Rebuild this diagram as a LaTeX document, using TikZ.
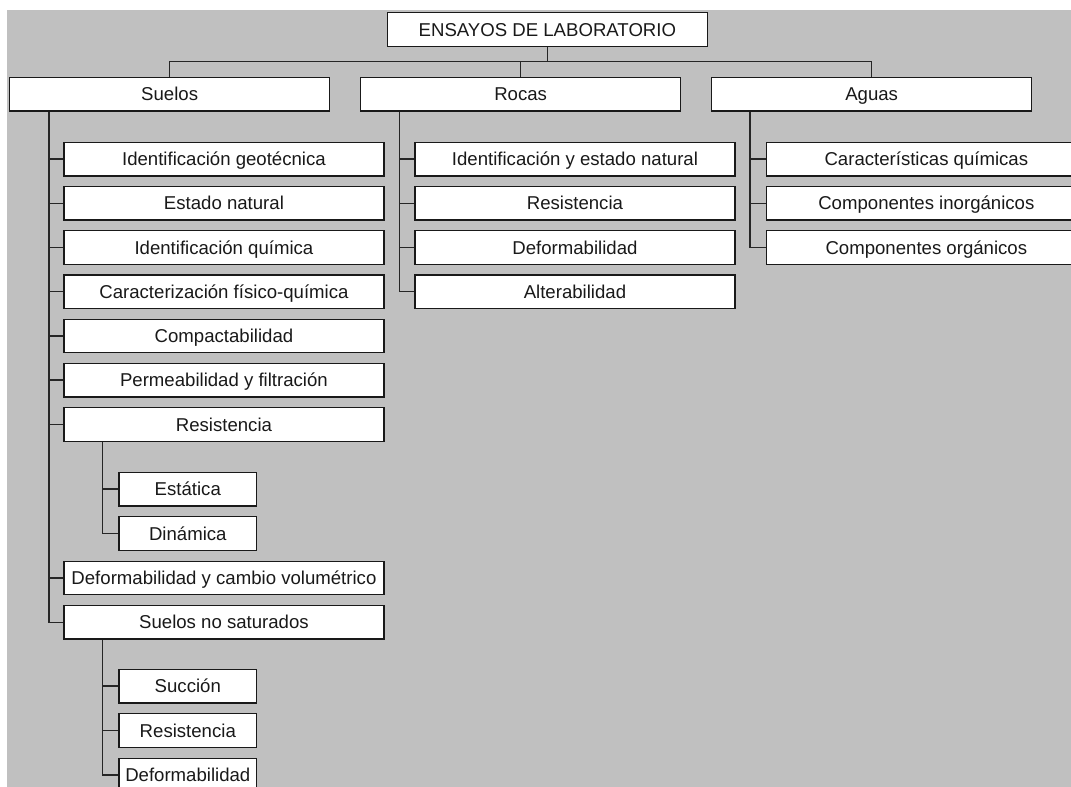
\documentclass[tikz,border=0pt]{standalone}
\usepackage{fontspec}
\setmainfont{Liberation Sans}
\begin{document}
\begin{tikzpicture}[x=1pt,y=-1pt,
  box/.style={draw=black!90,fill=white,line width=1.3pt,rectangle,inner sep=0pt,anchor=north west,
    minimum height=33.5pt,text height=13.3pt,text depth=0pt,text=black!90,font=\fontsize{18.6}{22}\selectfont},
  topbox/.style={box,minimum width=320pt},
  kid/.style={box,minimum width=320pt},
  small/.style={box,minimum width=137.7pt},
  conn/.style={draw=black!85,line width=1.3pt}]
\useasboundingbox (0,0) rectangle (1071,787);
\clip (0,0) rectangle (1071,786.7);
\fill[fill={rgb,255:red,192;green,192;blue,192}] (7,10) rectangle (1071,786.7);
% coordinates for buses
\coordinate (bus) at (0,61.7);
\coordinate (sv) at (49,0);
\coordinate (rv) at (399.3,0);
\coordinate (av) at (750,0);
\coordinate (rsv) at (102.7,0);
% nodes
\node[topbox] (root) at (386.7,12) {ENSAYOS DE LABORATORIO};
\node[topbox] (suelos) at (9,76.7) {Suelos};
\node[topbox] (rocas) at (360,76.7) {Rocas};
\node[topbox] (aguas) at (711,76.7) {Aguas};
% Suelos children
\node[kid] (s1) at (63.3,141.7) {Identificación geotécnica};
\node[kid] (s2) at (63.3,185.9) {Estado natural};
\node[kid] (s3) at (63.3,230.1) {Identificación química};
\node[kid] (s4) at (63.3,274.3) {Caracterización físico-química};
\node[kid] (s5) at (63.3,318.5) {Compactabilidad};
\node[kid] (s6) at (63.3,362.7) {Permeabilidad y filtración};
\node[kid] (s7) at (63.3,407.1) {Resistencia};
\node[small] (s7a) at (118.3,471.7) {Estática};
\node[small] (s7b) at (118.3,516) {Dinámica};
\node[kid] (s8) at (63.3,560.5) {Deformabilidad y cambio volumétrico};
\node[kid] (s9) at (63.3,604.8) {Suelos no saturados};
\node[small] (s9a) at (118.3,668.7) {Succión};
\node[small] (s9b) at (118.3,713.1) {Resistencia};
\node[small] (s9c) at (118.3,757.5) {Deformabilidad};
% Rocas children
\node[kid] (r1) at (414.3,141.7) {Identificación y estado natural};
\node[kid] (r2) at (414.3,185.9) {Resistencia};
\node[kid] (r3) at (414.3,230.1) {Deformabilidad};
\node[kid] (r4) at (414.3,274.3) {Alterabilidad};
% Aguas children
\node[kid] (a1) at (765.7,141.7) {Características químicas};
\node[kid] (a2) at (765.7,185.9) {Componentes inorgánicos};
\node[kid] (a3) at (765.7,230.1) {Componentes orgánicos};
% top connectors
\draw[conn] (root.south) -- (root.south |- bus);
\draw[conn] (suelos.north) -- (suelos.north |- bus) -- (aguas.north |- bus) -- (aguas.north);
\draw[conn] (rocas.north) -- (rocas.north |- bus);
% Suelos branch
\draw[conn] (suelos.south -| sv) |- (s9.west);
\foreach \c in {s1,s2,s3,s4,s5,s6,s7,s8} \draw[conn] (\c.west -| sv) -- (\c.west);
\draw[conn] (s7.south -| rsv) |- (s7b.west);
\draw[conn] (s7a.west -| rsv) -- (s7a.west);
\draw[conn] (s9.south -| rsv) |- (s9c.west);
\foreach \c in {s9a,s9b} \draw[conn] (\c.west -| rsv) -- (\c.west);
% Rocas branch
\draw[conn] (rocas.south -| rv) |- (r4.west);
\foreach \c in {r1,r2,r3} \draw[conn] (\c.west -| rv) -- (\c.west);
% Aguas branch
\draw[conn] (aguas.south -| av) |- (a3.west);
\foreach \c in {a1,a2} \draw[conn] (\c.west -| av) -- (\c.west);
\end{tikzpicture}
\end{document}
